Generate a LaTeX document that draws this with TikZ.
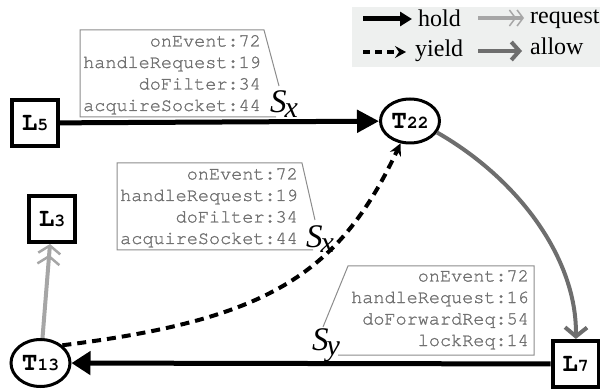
\documentclass[tikz,border=0pt]{standalone}
\usepackage{fontspec}
\setmainfont{Liberation Serif}
\newfontfamily\codefont{texgyrecursor}[Extension=.otf,UprightFont=*-regular,BoldFont=*-bold,FakeBold=1.2]
\newfontfamily\codebold{texgyrecursor-bold}[Extension=.otf]
\usetikzlibrary{arrows.meta,shapes.geometric}
\definecolor{legbg}{HTML}{EEF0EF}
\definecolor{reqc}{HTML}{A6A6A6}
\definecolor{allc}{HTML}{6E6E6E}
\definecolor{callc}{HTML}{8C8C8C}
\definecolor{codec}{HTML}{707070}
\newcommand{\lockname}[2]{{\codebold\fontsize{26}{26}\selectfont #1}{\codebold\fontsize{18}{18}\selectfont #2}}
\newcommand{\setname}[1]{{\fontsize{33}{33}\selectfont\itshape S\kern-2pt\raisebox{-5pt}{\fontsize{30}{30}\selectfont #1}}}
\begin{document}
\begin{tikzpicture}[x=1pt,y=-1pt,
  lockbox/.style={draw,line width=4pt,minimum size=46pt,inner sep=0pt},
  thr/.style={draw,ellipse,line width=3pt,minimum width=59pt,minimum height=44pt,inner sep=0pt},
  holdarr/.style={line width=5pt,-{Triangle[length=22pt,width=22pt]}},
  yieldarr/.style={line width=4pt,dash pattern=on 9pt off 6pt,-{Stealth[length=12pt,width=12pt,inset=4pt]}},
  reqarr/.style={reqc,line width=4pt,-{Straight Barb[length=8pt,width=22pt,line width=2.5pt]Straight Barb[length=8pt,width=22pt,line width=2.5pt]}},
  allowarr/.style={allc,line width=4pt,-{Straight Barb[length=9pt,width=22pt,line width=4pt]}},
  code/.style={anchor=base east,inner sep=0pt,text=codec,font=\codefont\fontsize{18.5}{18.5}\selectfont},
  callout/.style={callc,line width=1pt},
  legtext/.style={anchor=base west,inner sep=0pt,font=\fontsize{24}{24}\selectfont},
  setlab/.style={anchor=base west,inner sep=0pt}]
\useasboundingbox (0,0) rectangle (600,390);

% legend
\fill[legbg] (352,7) rectangle (600,67);
\coordinate (h1) at (363,19); \coordinate (h2) at (412,19);
\coordinate (y1) at (363,52); \coordinate (y2) at (406,52);
\coordinate (r1) at (478,18); \coordinate (r2) at (524,18);
\coordinate (a1) at (478,51); \coordinate (a2) at (522,51);
\draw[line width=5pt,-{Triangle[length=12pt,width=14pt]}] (h1) -- (h2);
\draw[line width=4pt,dash pattern=on 7pt off 5pt,-{Stealth[length=11pt,width=12pt,inset=4pt]}] (y1) -- (y2);
\draw[reqc,line width=3.5pt,-{Straight Barb[length=6pt,width=16pt,line width=1.5pt]Straight Barb[length=6pt,width=16pt,line width=1.5pt]}] (r1) -- (r2);
\draw[allc,line width=4pt,-{Straight Barb[length=8pt,width=18pt,line width=4pt]}] (a1) -- (a2);
\node[legtext] (thold) at (418,27) {hold};
\node[legtext] (tyield) at (415,57) {yield};
\node[legtext] (treq) at (530,24) {request};
\node[legtext] (tallow) at (530,55) {allow};

% nodes
\node[lockbox] (L5) at (35,123) {\lockname{L}{5}};
\node[lockbox] (L3) at (52,219) {\lockname{L}{3}};
\node[lockbox] (L7) at (575.5,364) {\lockname{L}{7}};
\node[thr] (T22) at (410,121) {\lockname{T}{22}};
\node[thr,minimum height=47pt] (T13) at (40.5,363) {\lockname{T}{13}};

% callout 1
\draw[callout] (279,86) -- (264,30) -- (80,30) -- (80,117) -- (276,117);
\node[code] (c11) at (261,46.5) {onEvent:72};
\node[code] (c12) at (261,68) {handleRequest:19};
\node[code] (c13) at (261,89.5) {doFilter:34};
\node[code] (c14) at (261,111) {acquireSocket:44};
\node[setlab] (sx1) at (270,113) {\setname{x}};

% callout 2
\draw[callout] (315,220) -- (302,163) -- (117,163) -- (117,250) -- (313,250);
\node[code] (c21) at (298,179.5) {onEvent:72};
\node[code] (c22) at (298,201) {handleRequest:19};
\node[code] (c23) at (298,222.5) {doFilter:34};
\node[code] (c24) at (298,244) {acquireSocket:44};
\node[setlab] (sx2) at (306,248) {\setname{x}};

% callout 3
\draw[callout] (323,327) -- (348,266) -- (534,266) -- (534,355) -- (338,355);
\node[code] (c31) at (529,281.5) {onEvent:72};
\node[code] (c32) at (529,303) {handleRequest:16};
\node[code] (c33) at (529,324.5) {doForwardReq:54};
\node[code] (c34) at (529,346) {lockReq:14};
\node[setlab] (sy) at (312,350) {\setname{y}};

% edges
\draw[holdarr] (L5) -- (T22);
\draw[line width=5pt,-{Triangle[length=19pt,width=23pt]}] (L7) -- (T13);
\draw[reqarr] (T13) -- (L3);
\draw[yieldarr] (T13.39) .. controls (264,320) and (338,277) .. (T22.247);
\draw[allowarr] (T22.-23) .. controls (520,180) and (577,260) .. (L7);
\end{tikzpicture}
\end{document}
